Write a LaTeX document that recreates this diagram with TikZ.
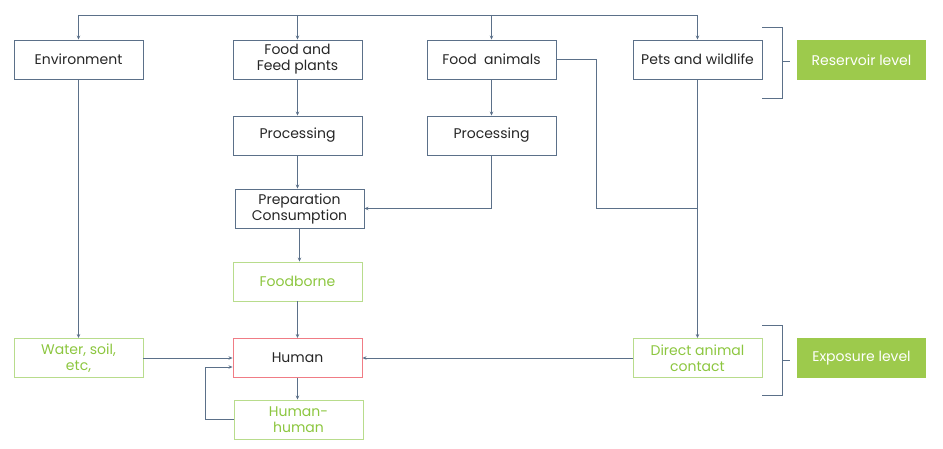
\documentclass[tikz,border=0pt]{standalone}
\usepackage{fontspec}
\setmainfont{Poppins}
\usetikzlibrary{arrows.meta}
\definecolor{linec}{HTML}{5B7089}
\definecolor{leaf}{HTML}{8CC63F}
\definecolor{leafbox}{HTML}{B8DC8C}
\definecolor{levelc}{HTML}{9DCA4C}
\definecolor{humanc}{HTML}{F07C85}
\begin{document}
\begin{tikzpicture}[x=1pt, y=-1pt,
    font=\fontsize{14}{16}\selectfont,
    conn/.style={draw=linec, line width=0.9pt},
    arr/.style={conn, -{Stealth[length=4pt, width=3.5pt]}},
    box/.style={draw=linec, line width=0.9pt, minimum width=129pt, minimum height=39pt,
                inner sep=2pt, align=center, text=black!85},
    gbox/.style={box, draw=leafbox, text=leaf},
    level/.style={fill=levelc, minimum width=129pt, minimum height=40pt, text=white}]
    \useasboundingbox (0,0) rectangle (943,449);

    % reservoir level
    \node[box] (env) at (78.5,59.5) {Environment};
    \node[box] (fplant) at (297.5,59.5) {Food and\\Feed plants};
    \node[box] (fanim) at (491.5,59.5) {Food\ \ animals};
    \node[box] (pets) at (697.5,59.5) {Pets and wildlife};

    % processing chain
    \node[box] (procA) at (297.5,135.5) {Processing};
    \node[box] (procB) at (491.5,135.5) {Processing};
    \node[box] (prep) at (299.5,208.5) {Preparation\\Consumption};
    \node[gbox] (fborne) at (297.5,281.5) {Foodborne};

    % exposure level
    \node[box, draw=humanc] (human) at (297.5,358) {Human};
    \node[gbox] (hh) at (298.5,419.5) {Human-\\human};
    \node[gbox] (water) at (78.5,358) {Water, soil,\\etc,};
    \node[gbox] (direct) at (697.5,358) {Direct animal\\contact};

    % labels on the right
    \node[level] (reserv) at (861.5,60) {Reservoir level};
    \node[level] (expo) at (861.5,358) {Exposure level};

    % top distribution line
    \coordinate (top) at (0,15);
    \draw[conn] (env.north |- top) -- (pets.north |- top);
    \foreach \n in {env, fplant, fanim, pets}
        \draw[arr] (\n.north |- top) -- (\n.north);

    % food chains
    \draw[arr] (fplant) -- (procA);
    \draw[arr] (fanim) -- (procB);
    \draw[arr] (procA) -- (prep.north -| procA);
    \draw[arr] (procB.south) |- (prep.east);
    \draw[arr] (prep) -- (fborne.north -| prep);
    \draw[arr] (fborne) -- (human);

    % animals to direct contact
    \coordinate (bend) at (596,208.5);
    \draw[conn] (fanim.east) -| (bend) -- (bend -| pets.south);
    \draw[arr] (pets) -- (direct);

    % into human
    \draw[arr] (env) -- (water);
    \draw[arr] (water) -- (human);
    \draw[arr] (direct) -- (human);
    \draw[arr] (human) -- (hh.north -| human);
    \draw[arr] (hh.west) -- ++(-28,0) |- ([yshift=-9pt]human.west);

    % brackets
    \draw[conn] (762,27) -- (782,27) -- (782,98) -- (762,98);
    \draw[conn] (782,61) -- (790,61);
    \draw[conn] (762,325) -- (782,325) -- (782,395) -- (762,395);
    \draw[conn] (782,360) -- (790,360);
\end{tikzpicture}
\end{document}
